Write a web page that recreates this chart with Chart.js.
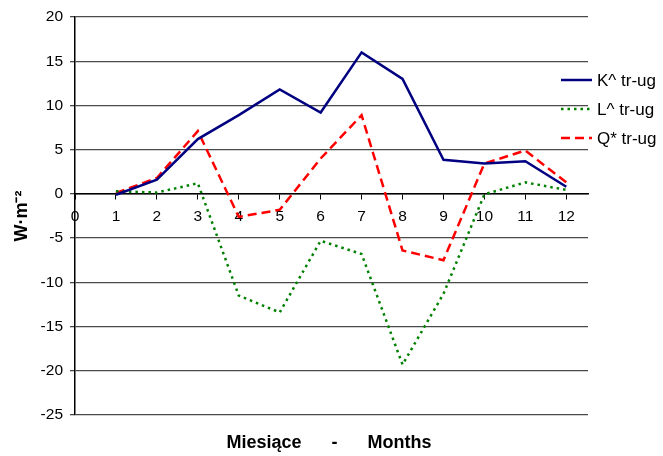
<!DOCTYPE html>
<html>
<head>
<meta charset="utf-8">
<script src="https://cdn.jsdelivr.net/npm/chart.js@4"></script>
<style>
  html, body { margin: 0; padding: 0; background: #fff; }
  #wrap { width: 663px; height: 456px; }
</style>
</head>
<body>
<div id="wrap"><canvas id="energyChart" width="663" height="456"></canvas></div>
<script>
// months and monthly values (W·m-2)
const months = [1, 2, 3, 4, 5, 6, 7, 8, 9, 10, 11, 12];
const kValues = [-0.1, 1.6, 6.2, 8.9, 11.8, 9.2, 16.0, 13.0, 3.85, 3.45, 3.7, 0.8];
const lValues = [0.3, 0.15, 1.2, -11.5, -13.4, -5.3, -6.8, -19.3, -11.3, -0.05, 1.3, 0.45];
const qValues = [0.1, 1.8, 7.1, -2.6, -1.8, 4.0, 8.9, -6.4, -7.5, 3.45, 4.9, 1.3];
const seriesNames = ['K^ tr-ug', 'L^ tr-ug', 'Q* tr-ug'];
const yTicks = [-25, -20, -15, -10, -5, 0, 5, 10, 15, 20];
const xTicks = [0, 1, 2, 3, 4, 5, 6, 7, 8, 9, 10, 11, 12];
const xTitle = 'Miesiące      -      Months';

const FONT = "'Liberation Sans', Arial, sans-serif";

function toPoints(vals) {
    return months.map((m, i) => ({ x: m, y: vals[i] }));
}

// legend on the right + the bottom title, drawn by hand so they sit where the original has them
const sideLegend = {
    id: 'sideLegend',
    afterDraw(chart) {
        const ctx = chart.ctx;
        ctx.save();
        chart.data.datasets.forEach((ds, i) => {
            const y = 80 + i * 29;
            ctx.strokeStyle = ds.borderColor;
            ctx.lineWidth = ds.borderWidth;
            ctx.setLineDash(ds.borderDash || []);
            ctx.beginPath();
            ctx.moveTo(561, y);
            ctx.lineTo(592, y);
            ctx.stroke();
            ctx.setLineDash([]);
            ctx.fillStyle = '#000';
            ctx.font = '17px ' + FONT;
            ctx.textBaseline = 'middle';
            ctx.textAlign = 'left';
            ctx.fillText(ds.label, 597, y + 1);
        });
        // x axis title
        ctx.font = 'bold 18px ' + FONT;
        ctx.textAlign = 'center';
        ctx.textBaseline = 'middle';
        ctx.fillStyle = '#000';
        ctx.fillText(xTitle, 329, 443);
        ctx.restore();
    }
};

const ctx = document.getElementById('energyChart').getContext('2d');
const energyChart = new Chart(ctx, {
    type: 'scatter',
    data: {
        datasets: [
            {
                label: seriesNames[0],
                data: toPoints(kValues),
                borderColor: '#000080',
                borderWidth: 2.5,
                showLine: true
            },
            {
                label: seriesNames[1],
                data: toPoints(lValues),
                borderColor: '#008000',
                borderWidth: 2.5,
                borderDash: [2.5, 4],
                showLine: true
            },
            {
                label: seriesNames[2],
                data: toPoints(qValues),
                borderColor: '#ff0000',
                borderWidth: 2.5,
                borderDash: [9, 5],
                showLine: true
            }
        ]
    },
    options: {
        responsive: false,
        animation: false,
        events: [],
        elements: { point: { radius: 0 }, line: { tension: 0 } },
        layout: { padding: { top: 17, right: 75, left: 0, bottom: 41 } },
        plugins: {
            legend: { display: false },
            tooltip: { enabled: false }
        },
        scales: {
            x: {
                type: 'linear',
                position: { y: 0 },
                min: 0,
                max: 12.53,
                afterBuildTicks: scale => {
                    scale.ticks = xTicks.map(v => ({ value: v }));
                },
                ticks: {
                    color: '#000',
                    font: { family: FONT, size: 15.5 },
                    padding: 9,
                    maxRotation: 0,
                    autoSkip: false
                },
                grid: { drawOnChartArea: false, drawTicks: true, tickLength: 5, color: '#000' },
                border: { color: '#000', width: 1.5 }
            },
            y: {
                min: -25,
                max: 20,
                afterBuildTicks: scale => {
                    scale.ticks = yTicks.map(v => ({ value: v }));
                },
                afterFit: scale => { scale.width = 75; },
                ticks: {
                    color: '#000',
                    font: { family: FONT, size: 15.5 },
                    padding: 7
                },
                grid: { color: '#4a4a4a', lineWidth: 1.3, tickLength: 5 },
                border: { color: '#000', width: 1.5 },
                title: {
                    display: true,
                    text: 'W·m⁻²',
                    color: '#000',
                    font: { family: FONT, size: 18, weight: 'bold' },
                    padding: { top: 11, bottom: 0 }
                }
            }
        }
    },
    plugins: [sideLegend]
});
</script>
</body>
</html>
